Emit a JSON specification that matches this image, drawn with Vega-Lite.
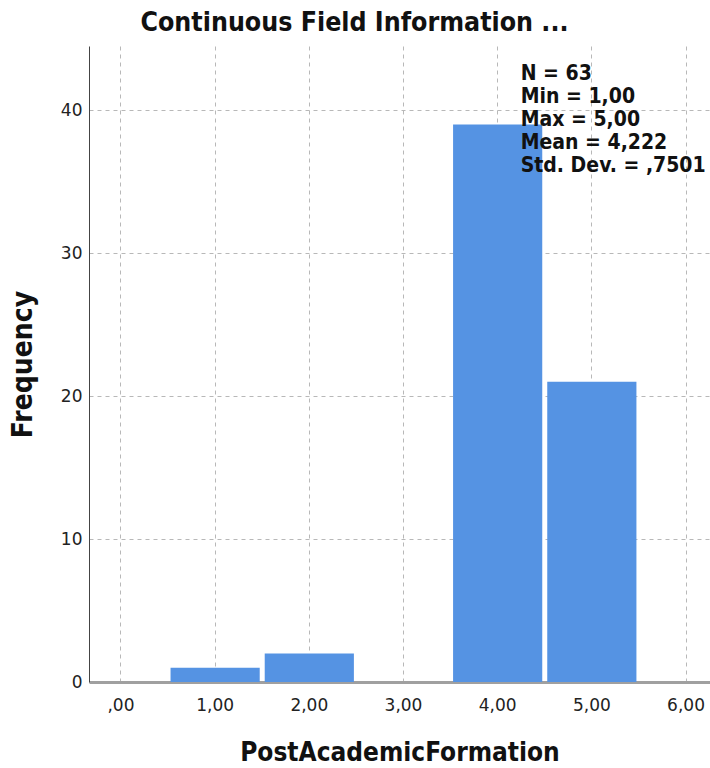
{
  "$schema": "https://vega.github.io/schema/vega-lite/v6.json",
  "width": 621,
  "height": 636,
  "autosize": {"type": "none"},
  "padding": {"left": 89, "top": 46, "right": 0, "bottom": 86},
  "background": "white",
  "title": {
    "text": "Continuous Field Information ...",
    "font": "DejaVu Sans Condensed",
    "fontSize": 26.5,
    "fontWeight": "bold",
    "color": "#111111",
    "anchor": "middle",
    "frame": "group",
    "dx": -45,
    "offset": 10
  },
  "config": {
    "view": {"stroke": null},
    "axis": {
      "labelFont": "DejaVu Sans",
      "titleFont": "DejaVu Sans Condensed",
      "gridColor": "#b8b8b8",
      "gridDash": [4, 4],
      "gridWidth": 1,
      "ticks": false
    }
  },
  "layer": [
    {
      "data": {
        "values": [
          {"bin_start": 0.5, "bin_end": 1.5, "count": 1},
          {"bin_start": 1.5, "bin_end": 2.5, "count": 2},
          {"bin_start": 3.5, "bin_end": 4.5, "count": 39},
          {"bin_start": 4.5, "bin_end": 5.5, "count": 21}
        ]
      },
      "mark": {"type": "bar", "color": "#5593e3", "binSpacing": 5},
      "encoding": {
        "x": {
          "field": "bin_start",
          "bin": "binned",
          "type": "quantitative",
          "scale": {"domain": [-0.334, 6.26], "nice": false, "zero": false},
          "axis": {
            "values": [0, 1, 2, 3, 4, 5, 6],
            "grid": true,
            "labelExpr": "datum.value == 0 ? ',00' : datum.value + ',00'",
            "labelFontSize": 17,
            "labelColor": "#222222",
            "labelPadding": 15,
            "domainColor": "#a0a0a0",
            "domainWidth": 3,
            "title": "PostAcademicFormation",
            "titleFontSize": 26,
            "titleFontWeight": "bold",
            "titleColor": "#111111",
            "titlePadding": 26
          }
        },
        "x2": {"field": "bin_end"},
        "y": {
          "field": "count",
          "type": "quantitative",
          "scale": {"domain": [0, 44.5], "nice": false},
          "axis": {
            "values": [0, 10, 20, 30, 40],
            "grid": true,
            "labelFontSize": 17,
            "labelColor": "#222222",
            "labelPadding": 7,
            "domainColor": "#444444",
            "domainWidth": 1,
            "title": "Frequency",
            "titleFontSize": 28,
            "titleFontWeight": "bold",
            "titleColor": "#111111",
            "titlePadding": 23
          }
        }
      }
    },
    {
      "data": {
        "values": [
          {"x": 4.25, "y": 43.34, "label": ["N = 63", "Min = 1,00", "Max = 5,00", "Mean = 4,222", "Std. Dev. = ,7501"]}
        ]
      },
      "mark": {
        "type": "text",
        "align": "left",
        "baseline": "top",
        "font": "DejaVu Sans Condensed",
        "fontSize": 21,
        "fontWeight": "bold",
        "lineHeight": 23,
        "color": "#111111"
      },
      "encoding": {
        "x": {"field": "x", "type": "quantitative"},
        "y": {"field": "y", "type": "quantitative"},
        "text": {"field": "label"}
      }
    }
  ]
}
